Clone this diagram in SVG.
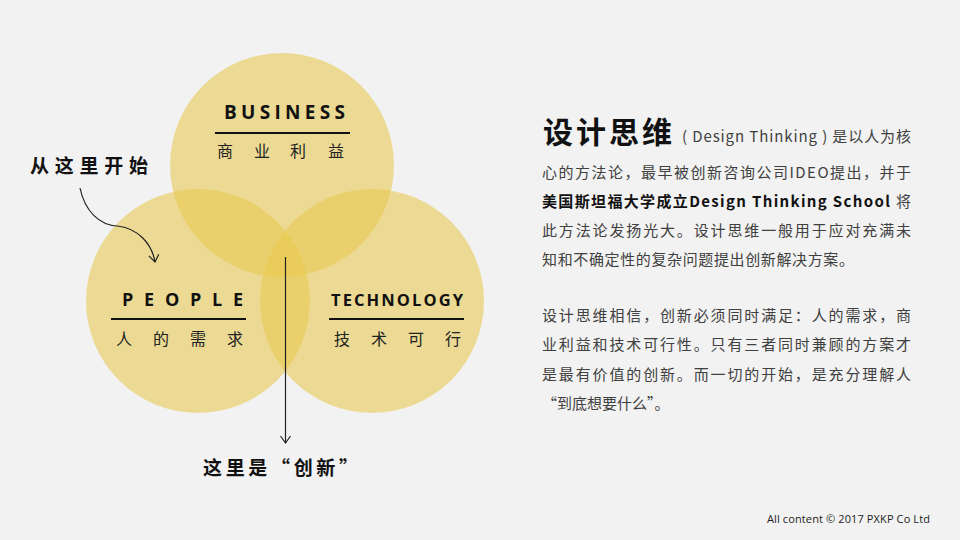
<svg xmlns="http://www.w3.org/2000/svg" width="960" height="540" viewBox="0 0 960 540">
<defs>
<style>
.c{fill:#E8C94E;fill-opacity:0.57}
.en{font-family:"Open Sans","Noto Sans",sans-serif;font-weight:700;fill:#111}
.cn{font-family:"Noto Sans CJK SC",sans-serif;font-size:16px;fill:#222}
.hd{font-family:"Noto Sans CJK SC",sans-serif;font-weight:700;font-size:19px;fill:#111}
.bd{font-family:"Noto Sans CJK SC",sans-serif;font-size:15px;fill:#404040;font-weight:400}
.rule{stroke:#111;stroke-width:2}
.ln{fill:none;stroke:#222;stroke-width:1.2}
</style>
<marker id="ah" viewBox="0 0 12 12" refX="10" refY="6" markerWidth="12" markerHeight="12" markerUnits="userSpaceOnUse" orient="auto">
<path d="M3,1 L10,6 L3,11" fill="none" stroke="#222" stroke-width="1.2"/>
</marker>
</defs>
<rect width="960" height="540" fill="#F2F2F2"/>
<g id="business">
<circle class="c" cx="282" cy="165" r="112"/>
<text class="en" x="224" y="119" font-size="19" textLength="121" lengthAdjust="spacing">BUSINESS</text>
<line class="rule" x1="215" y1="133" x2="350" y2="133"/>
<text class="cn" x="217 254 290 328" y="157">商业利益</text>
</g>
<g id="people">
<circle class="c" cx="198" cy="301" r="112"/>
<text class="en" x="122" y="306" font-size="18" textLength="121" lengthAdjust="spacing">PEOPLE</text>
<line class="rule" x1="111" y1="319" x2="246" y2="319"/>
<text class="cn" x="116 153 190 227" y="345">人的需求</text>
</g>
<g id="technology">
<circle class="c" cx="372" cy="301" r="112"/>
<text class="en" x="331" y="306" font-size="16.5" textLength="132" lengthAdjust="spacing">TECHNOLOGY</text>
<line class="rule" x1="329" y1="319" x2="464" y2="319"/>
<text class="cn" x="334 371 408 445" y="345">技术可行</text>
</g>
<g id="start">
<text class="hd" x="30" y="173" textLength="118" lengthAdjust="spacing">从这里开始</text>
</g>
<g id="innovation">
<text class="hd" x="203" y="475" textLength="155" lengthAdjust="spacing">这里是“创新”</text>
</g>
<g id="connectors">
<path class="ln" d="M80,188 C85,212 100,225 117,226 C138,228 152,244 155,262" marker-end="url(#ah)"/>
<line class="ln" x1="285.5" y1="257" x2="285.5" y2="443" marker-end="url(#ah)"/>
</g>
<g id="description">
<text x="543" y="143" font-family="Noto Sans CJK SC,sans-serif" font-weight="700" font-size="30" fill="#111" textLength="129" lengthAdjust="spacing">设计思维</text>
<text class="bd" x="682" y="142" textLength="229" lengthAdjust="spacing">( Design  Thinking ) 是以人为核</text>
<text class="bd" x="542" y="178" textLength="369" lengthAdjust="spacing">心的方法论，最早被创新咨询公司IDEO提出，并于</text>
<text class="bd" x="542" y="207" textLength="369" lengthAdjust="spacing"><tspan font-weight="700" fill="#111">美国斯坦福大学成立Design Thinking School</tspan> 将</text>
<text class="bd" x="542" y="236" textLength="369" lengthAdjust="spacing">此方法论发扬光大。设计思维一般用于应对充满未</text>
<text class="bd" x="542" y="265" textLength="312" lengthAdjust="spacing">知和不确定性的复杂问题提出创新解决方案。</text>
<text class="bd" x="542" y="321" textLength="369" lengthAdjust="spacing">设计思维相信，创新必须同时满足：人的需求，商</text>
<text class="bd" x="542" y="350" textLength="369" lengthAdjust="spacing">业利益和技术可行性。只有三者同时兼顾的方案才</text>
<text class="bd" x="542" y="380" textLength="369" lengthAdjust="spacing">是最有价值的创新。而一切的开始，是充分理解人</text>
<text class="bd" x="542" y="409">“到底想要什么”。</text>
</g>
<g id="footer">
<text x="767" y="523" font-family="Open Sans,Noto Sans,sans-serif" font-size="11" fill="#222" textLength="163" lengthAdjust="spacing">All content © 2017  PXKP Co Ltd</text>
</g>
</svg>
